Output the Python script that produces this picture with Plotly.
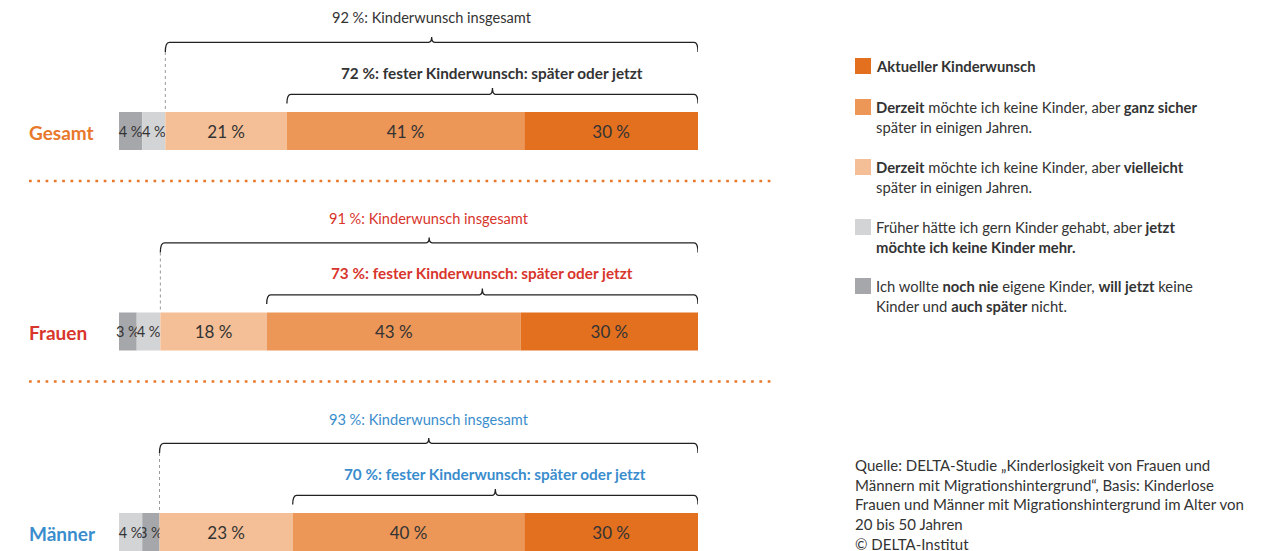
import plotly.graph_objects as go

# ---------------- data ----------------
rows = ["Gesamt", "Frauen", "Männer"]
row_colors = ["#E8782B", "#D8352C", "#3A8DCD"]
brace_text_colors = ["#333333", "#D8352C", "#3A8DCD"]

series_keys = ["noch_nie", "frueher", "vielleicht", "sicher", "aktuell"]
series_colors = {
    "noch_nie": "#A6A7AB",
    "frueher": "#D3D4D6",
    "vielleicht": "#F4BF96",
    "sicher": "#EC9657",
    "aktuell": "#E3701F",
}
noch_nie = [4, 3, 3]
frueher = [4, 4, 4]
vielleicht = [21, 18, 23]
sicher = [41, 43, 40]
aktuell = [30, 30, 30]
values = {"noch_nie": noch_nie, "frueher": frueher, "vielleicht": vielleicht,
          "sicher": sicher, "aktuell": aktuell}

# stacking order of the segments in each row (left to right)
stack_order = [
    ["noch_nie", "frueher", "vielleicht", "sicher", "aktuell"],
    ["noch_nie", "frueher", "vielleicht", "sicher", "aktuell"],
    ["frueher", "noch_nie", "vielleicht", "sicher", "aktuell"],
]

insgesamt = [92, 91, 93]
fest = [72, 73, 70]

legend_order = ["aktuell", "sicher", "vielleicht", "frueher", "noch_nie"]
legend_lines = {
    "aktuell": ["<b>Aktueller Kinderwunsch</b>"],
    "sicher": ["<b>Derzeit</b> möchte ich keine Kinder, aber <b>ganz sicher</b>",
               "später in einigen Jahren."],
    "vielleicht": ["<b>Derzeit</b> möchte ich keine Kinder, aber <b>vielleicht</b>",
                   "später in einigen Jahren."],
    "frueher": ["Früher hätte ich gern Kinder gehabt, aber <b>jetzt</b>",
                "<b>möchte ich keine Kinder mehr.</b>"],
    "noch_nie": ["Ich wollte <b>noch nie</b> eigene Kinder, <b>will jetzt</b> keine",
                 "Kinder und <b>auch später</b> nicht."],
}
source_lines = [
    "Quelle: DELTA-Studie „Kinderlosigkeit von Frauen und",
    "Männern mit Migrationshintergrund“, Basis: Kinderlose",
    "Frauen und Männer mit Migrationshintergrund im Alter von",
    "20 bis 50 Jahren",
    "© DELTA-Institut",
]

# ---------------- layout helpers ----------------
W, H = 1272, 551
OFF = 8  # page margin of the browser
FONT = "Lato"
TXT = "#333333"
X_LEFT_PX, X_RIGHT_PX = 119, 698
ROW0_PX, ROW_STEP_PX, BAR_PX = 131, 200.5, 38
PX_PER_UNIT = (X_RIGHT_PX - X_LEFT_PX) / 100.0


def py(p):
    return 1 - (p - OFF) / H


def px(p):
    return (p - OFF) / W


def row_center(i):
    return ROW0_PX + ROW_STEP_PX * i


# normalized widths and bases
totals = [sum(values[k][i] for k in series_keys) for i in range(len(rows))]
bases = {k: [0.0] * len(rows) for k in series_keys}
widths = {k: [0.0] * len(rows) for k in series_keys}
for i in range(len(rows)):
    acc = 0.0
    for k in stack_order[i]:
        w = values[k][i] / totals[i] * 100
        bases[k][i] = acc
        widths[k][i] = w
        acc += w

fig = go.Figure()
for k in series_keys:
    fig.add_trace(go.Bar(
        y=rows, x=widths[k], base=bases[k], orientation="h",
        marker=dict(color=series_colors[k], line=dict(width=0)),
        width=BAR_PX / ROW_STEP_PX,
        text=[f"{v}\u202f%" for v in values[k]],
        textposition="inside", insidetextanchor="middle",
        constraintext="none", textangle=0, cliponaxis=False,
        textfont=dict(family=FONT, size=[14.5 if v < 5 else 17 for v in values[k]],
                      color=TXT),
        showlegend=False, hoverinfo="skip",
    ))

shapes = []
annotations = []


def brace_path(x0, x1, y_end, y_line, y_tip):
    r = 4 / PX_PER_UNIT
    t = 3 / PX_PER_UNIT
    xm = (x0 + x1) / 2
    return (f"M {x0},{y_end} Q {x0},{y_line} {x0 + r},{y_line} "
            f"L {xm - t},{y_line} Q {xm},{y_line} {xm},{y_tip} "
            f"Q {xm},{y_line} {xm + t},{y_line} "
            f"L {x1 - r},{y_line} Q {x1},{y_line} {x1},{y_end}")


for i, name in enumerate(rows):
    c = row_center(i)
    top = c - BAR_PX / 2
    x_ins = bases["vielleicht"][i]
    x_fest = bases["sicher"][i]
    x_end = bases["aktuell"][i] + widths["aktuell"][i]

    # row label
    annotations.append(dict(
        x=px(27), y=py(c + 1), xref="paper", yref="paper", xanchor="left", yanchor="middle",
        text=f"<b>{name}</b>", showarrow=False,
        font=dict(family=FONT, size=19, color=row_colors[i])))

    # brace 1
    shapes.append(dict(type="path", xref="x", yref="paper",
                       path=brace_path(x_ins, x_end, py(top - 60), py(top - 69.7), py(top - 75)),
                       line=dict(color="#222222", width=1.3)))
    annotations.append(dict(
        x=(x_ins + x_end) / 2, y=py(top - 94), xref="x", yref="paper",
        xanchor="center", yanchor="middle", showarrow=False,
        text=f"{insgesamt[i]}\u202f%: Kinderwunsch insgesamt",
        font=dict(family=FONT, size=14.6, color=brace_text_colors[i])))
    # dotted connector
    shapes.append(dict(type="line", xref="x", yref="paper",
                       x0=x_ins, x1=x_ins, y0=py(top - 60), y1=py(top),
                       line=dict(color="#9A9A9A", width=1, dash="dot")))

    # brace 2
    shapes.append(dict(type="path", xref="x", yref="paper",
                       path=brace_path(x_fest, x_end, py(top - 8.5), py(top - 17.7), py(top - 24)),
                       line=dict(color="#222222", width=1.3)))
    annotations.append(dict(
        x=(x_fest + x_end) / 2, y=py(top - 39.5), xref="x", yref="paper",
        xanchor="center", yanchor="middle", showarrow=False,
        text=f"<b>{fest[i]}\u202f%: fester Kinderwunsch: später oder jetzt</b>",
        font=dict(family=FONT, size=15.3, color=brace_text_colors[i])))

    # separator
    if i < len(rows) - 1:
        ys = py(c + 50)
        shapes.append(dict(type="line", xref="paper", yref="paper",
                           x0=px(29), x1=px(772), y0=ys, y1=ys,
                           line=dict(color="#E8782B", width=2.7, dash="2.7px,5.6px")))

# legend (custom)
legend_first_line = [66, 107, 167, 227, 286]
for k, y0 in zip(legend_order, legend_first_line):
    shapes.append(dict(type="rect", xref="paper", yref="paper",
                       x0=px(855), x1=px(871), y0=py(y0 - 8), y1=py(y0 + 8),
                       fillcolor=series_colors[k], line=dict(width=0)))
    for j, line in enumerate(legend_lines[k]):
        annotations.append(dict(
            x=px(874), y=py(y0 + 20 * j), xref="paper", yref="paper",
            xanchor="left", yanchor="middle", showarrow=False, text=line,
            font=dict(family=FONT, size=14.8, color=TXT)))

# source
for j, line in enumerate(source_lines):
    annotations.append(dict(
        x=px(853), y=py(465 + 19.7 * j), xref="paper", yref="paper",
        xanchor="left", yanchor="middle", showarrow=False, text=line,
        font=dict(family=FONT, size=15, color=TXT)))

fig.update_layout(
    width=W, height=H, barmode="overlay",
    margin=dict(l=0, r=0, t=0, b=0),
    paper_bgcolor="white", plot_bgcolor="white",
    xaxis=dict(range=[0, 100], domain=[px(X_LEFT_PX), px(X_RIGHT_PX)], visible=False,
               fixedrange=True),
    yaxis=dict(type="category", categoryorder="array", categoryarray=rows,
               range=[(H + OFF - ROW0_PX) / ROW_STEP_PX, -(ROW0_PX - OFF) / ROW_STEP_PX],
               visible=False, fixedrange=True),
    shapes=shapes, annotations=annotations,
    font=dict(family=FONT, color=TXT),
)

fig.write_html("out.html")
